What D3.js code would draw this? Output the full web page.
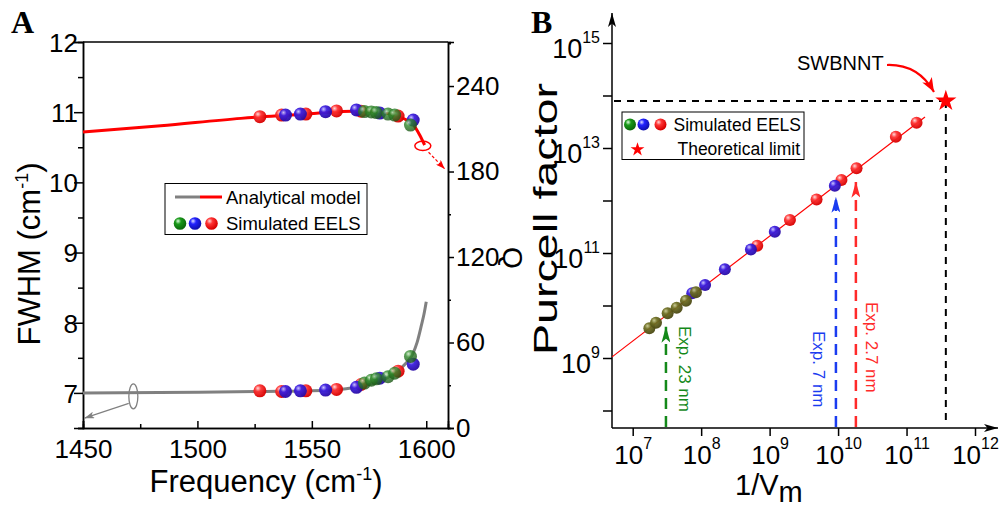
<!DOCTYPE html>
<html>
<head>
<meta charset="utf-8">
<script src="https://cdn.jsdelivr.net/npm/d3@7/dist/d3.min.js"></script>
<style>
body { margin: 0; background: #fff; }
text { font-family: "Liberation Sans", Arial, sans-serif; fill: #000; }
</style>
</head>
<body>
<svg width="1003" height="509"></svg>
<script>
// ---- panel A : analytical model ----
let modelFreq = [1450, 1500, 1530, 1550, 1565, 1575, 1582, 1587, 1591, 1594, 1596, 1598, 1599, 1600]
let modelFwhm = [7.0, 7.01, 7.02, 7.03, 7.06, 7.12, 7.2, 7.3, 7.42, 7.55, 7.72, 7.98, 8.12, 8.3]
let modelQFreq = [1450, 1484, 1519, 1545, 1562, 1571, 1580, 1586, 1591, 1594, 1597, 1599.3]
let modelQ = [207.7, 212.1, 217.3, 220.1, 222, 222.5, 221.5, 219.6, 216.5, 213.5, 206, 198.6]

// ---- panel A : simulated EELS ----
let simFreq = [1527.3, 1536.8, 1547.4, 1560.8, 1571.5, 1587.7, 1538.5, 1545, 1556, 1569.5, 1579.7, 1594.3, 1573, 1576, 1578.2, 1583.3, 1586.2, 1593.1]
let simFwhm = [7.03, 7.02, 7.03, 7.05, 7.12, 7.31, 7.02, 7.03, 7.04, 7.08, 7.21, 7.41, 7.14, 7.18, 7.2, 7.23, 7.28, 7.52]
let simQ = [218.5, 219.6, 220.3, 222.5, 222.3, 218.9, 219.6, 220.3, 222, 223.2, 221, 216.1, 222.1, 221.8, 221.4, 220.3, 219.6, 212.6]
let simColor = ['r', 'r', 'r', 'r', 'r', 'r', 'b', 'b', 'b', 'b', 'b', 'b', 'g', 'g', 'g', 'g', 'g', 'g']

let freqTicks = [1450, 1500, 1550, 1600]
let fwhmTicks = [7, 8, 9, 10, 11, 12]
let qTicks = [0, 60, 120, 180, 240]

// ---- panel B : Purcell factor ----
let invV = [6.59e8, 1.98e9, 4.85e9, 1.12e10, 1.86e10, 6.98e10, 1.40e11,
            7.41e7, 1.14e8, 2.22e8, 5.33e8, 1.19e9, 8.97e9,
            1.75e7, 2.19e7, 3.24e7, 4.39e7, 6.00e7, 8.39e7]
let purcell = [1.38e11, 4.26e11, 1.05e12, 2.45e12, 4.10e12, 1.64e13, 3.03e13,
               1.71e10, 2.45e10, 4.90e10, 1.17e11, 2.55e11, 1.91e12,
               3.68e9, 4.70e9, 7.10e9, 9.08e9, 1.23e10, 1.78e10]
let pColor = ['r', 'r', 'r', 'r', 'r', 'r', 'r',
              'b', 'b', 'b', 'b', 'b', 'b',
              'g', 'g', 'g', 'g', 'g', 'g']
let fitInvV = [5.0e6, 1.86e11]
let fitPurcell = [1.05e9, 3.9e13]
let limitInvV = 3.75e11
let limitPurcell = 7.85e13
let expLabels = ['Exp. 23 nm', 'Exp. 7 nm', 'Exp. 2.7 nm']
let expInvV = [3.06e7, 9.3e9, 1.82e10]
let expTip = [3.95e9, 1.18e12, 2.28e12]
let expColors = ['#14891a', '#1a3cf0', '#ff2a2a']
let invVTicks = [1e7, 1e8, 1e9, 1e10, 1e11, 1e12]
let purcellTicks = [1e8, 1e9, 1e10, 1e11, 1e12, 1e13, 1e14, 1e15]

let svg = d3.select('svg')
let defs = svg.append('defs')

let ball = (id, hi, mid, lo) => {
    let g = defs.append('radialGradient').attr('id', id)
        .attr('cx', '38%').attr('cy', '35%').attr('r', '62%')
        .attr('fx', '34%').attr('fy', '30%')
    g.append('stop').attr('offset', '0%').attr('stop-color', hi)
    g.append('stop').attr('offset', '38%').attr('stop-color', mid)
    g.append('stop').attr('offset', '100%').attr('stop-color', lo)
}
ball('ball-r', '#ffd8d8', '#ff3434', '#d80000')
ball('ball-b', '#c8c0ff', '#3c1fe0', '#2a0ca8')
ball('ball-g', '#c8e8c0', '#2f8a2a', '#1e5a18')
ball('ball-o', '#c8c890', '#6f7024', '#4c4a14')
ball('ball-lg', '#e0ffe0', '#1a9a1a', '#0c6a0c')
ball('ball-lb', '#e0e0ff', '#2222ff', '#1010b0')

let marker = (id, color, w, h) => {
    defs.append('marker').attr('id', id)
        .attr('viewBox', `0 0 ${w} ${h}`).attr('refX', w).attr('refY', h / 2)
        .attr('markerWidth', w).attr('markerHeight', h)
        .attr('markerUnits', 'userSpaceOnUse').attr('orient', 'auto')
        .append('path').attr('d', `M0,0 L${w},${h / 2} L0,${h} L${w * 0.25},${h / 2} Z`)
        .attr('fill', color)
}
marker('arr-gray', '#808080', 10, 7)
marker('arr-red', '#ff0000', 9, 7)
marker('arr-black', '#000', 14, 8)
marker('arr-swb', '#ff0000', 14, 11)
expColors.forEach((c, i) => marker('arr-exp' + i, c, 16, 9))

let fillOf = { r: 'url(#ball-r)', b: 'url(#ball-b)', g: 'url(#ball-g)' }

// ================= panel A =================
let xA = d3.scaleLinear().domain([1450, 1609.5]).range([83, 448])
let yA = d3.scaleLinear().domain([6.5, 12]).range([428, 42])
let qA = d3.scaleLinear().domain([0, 270.9]).range([428, 42])

let gA = svg.append('g')

// frame
gA.append('line').attr('x1', 83).attr('x2', 448).attr('y1', 42).attr('y2', 42)
    .attr('stroke', '#000').attr('stroke-width', 1.5)

let leftA = gA.append('g').attr('transform', 'translate(83,0)')
    .call(d3.axisLeft(yA).tickValues(fwhmTicks).tickSize(9).tickPadding(-4).tickFormat(d3.format('d')))
leftA.append('g').call(d3.axisLeft(yA).tickValues([6.5, 7.5, 8.5, 9.5, 10.5, 11.5]).tickSize(5).tickFormat(''))

let bottomA = gA.append('g').attr('transform', 'translate(0,428)')
    .call(d3.axisBottom(xA).tickValues(freqTicks).tickSize(-7).tickPadding(12).tickFormat(d3.format('d')))
bottomA.append('g').call(d3.axisBottom(xA).tickValues([1475, 1525, 1575]).tickSize(-4).tickFormat(''))

let rightA = gA.append('g').attr('transform', 'translate(448,0)')
    .call(d3.axisRight(qA).tickValues(qTicks).tickSize(6).tickPadding(2).tickFormat(d3.format('d')))
rightA.append('g').call(d3.axisRight(qA).tickValues([30, 90, 150, 210, 270]).tickSize(3).tickFormat(''))

gA.selectAll('.domain').attr('stroke-width', 1.5)
gA.selectAll('.tick line').attr('stroke-width', 1.5)
gA.selectAll('.tick text').attr('font-size', 26).attr('font-family', '"Liberation Sans", Arial, sans-serif')
leftA.selectAll('.tick text').attr('dy', '0.36em')

// model curves
gA.append('path').datum(modelFreq.map((f, i) => [f, modelFwhm[i]]))
    .attr('fill', 'none').attr('stroke', '#808080').attr('stroke-width', 3)
    .attr('d', d3.line().curve(d3.curveMonotoneX).x(d => xA(d[0])).y(d => yA(d[1])))
gA.append('path').datum(modelQFreq.map((f, i) => [f, modelQ[i]]))
    .attr('fill', 'none').attr('stroke', '#ff0000').attr('stroke-width', 3)
    .attr('d', d3.line().curve(d3.curveMonotoneX).x(d => xA(d[0])).y(d => qA(d[1])))

// axis indicators
gA.append('ellipse').attr('cx', xA(1472)).attr('cy', yA(6.95)).attr('rx', 4.5).attr('ry', 12.5)
    .attr('fill', 'none').attr('stroke', '#808080').attr('stroke-width', 1.3)
gA.append('line').attr('x1', xA(1470)).attr('y1', yA(6.85)).attr('x2', xA(1450.6)).attr('y2', yA(6.64))
    .attr('stroke', '#808080').attr('stroke-width', 1.2).attr('marker-end', 'url(#arr-gray)')
gA.append('ellipse').attr('cx', xA(1598.5)).attr('cy', qA(198)).attr('rx', 8).attr('ry', 4.7)
    .attr('fill', 'none').attr('stroke', '#ff0000').attr('stroke-width', 1.5)
gA.append('line').attr('x1', xA(1601)).attr('y1', qA(193.5)).attr('x2', xA(1608)).attr('y2', qA(182))
    .attr('stroke', '#ff0000').attr('stroke-width', 1.2).attr('stroke-dasharray', '3,2')
    .attr('marker-end', 'url(#arr-red)')

// simulated points (both FWHM and Q)
let simIdx = d3.range(simFreq.length)
gA.selectAll('circle.fw').data(simIdx).enter().append('circle').attr('class', 'fw')
    .attr('cx', i => xA(simFreq[i])).attr('cy', i => yA(simFwhm[i])).attr('r', 6.5)
    .attr('fill', i => fillOf[simColor[i]]).attr('opacity', i => simColor[i] == 'g' ? 0.8 : 0.95)
gA.selectAll('circle.q').data(simIdx).enter().append('circle').attr('class', 'q')
    .attr('cx', i => xA(simFreq[i])).attr('cy', i => qA(simQ[i])).attr('r', 6.5)
    .attr('fill', i => fillOf[simColor[i]]).attr('opacity', i => simColor[i] == 'g' ? 0.8 : 0.95)

// legend A
gA.append('rect').attr('x', 165).attr('y', 183.5).attr('width', 202).attr('height', 51)
    .attr('fill', '#fff').attr('stroke', '#000').attr('stroke-width', 1)
gA.append('line').attr('x1', 175).attr('x2', 200).attr('y1', 197).attr('y2', 197).attr('stroke', '#808080').attr('stroke-width', 3)
gA.append('line').attr('x1', 200).attr('x2', 222).attr('y1', 197).attr('y2', 197).attr('stroke', '#ff0000').attr('stroke-width', 3)
gA.append('text').attr('x', 226).attr('y', 203.5).attr('font-size', 18.5).text('Analytical model')
;[['ball-lg', 180], ['ball-lb', 195], ['ball-r', 211.5]].forEach(d => {
    gA.append('circle').attr('cx', d[1]).attr('cy', 223.5).attr('r', 6.3).attr('fill', `url(#${d[0]})`)
})
gA.append('text').attr('x', 226).attr('y', 230).attr('font-size', 18.5).text('Simulated EELS')

// titles A
let tFw = gA.append('text').attr('transform', 'translate(40,254) rotate(-90)').attr('text-anchor', 'middle').attr('font-size', 31)
tFw.append('tspan').text('FWHM (cm')
tFw.append('tspan').attr('font-size', 18).attr('dy', -12).text('-1')
tFw.append('tspan').attr('dy', 12).text(')')
let tFr = gA.append('text').attr('x', 266).attr('y', 492).attr('text-anchor', 'middle').attr('font-size', 31)
tFr.append('tspan').text('Frequency (cm')
tFr.append('tspan').attr('font-size', 18).attr('dy', -12).text('-1')
tFr.append('tspan').attr('dy', 12).text(')')
gA.append('text').attr('transform', 'translate(503,258) rotate(90)').attr('text-anchor', 'middle').attr('font-size', 28).text('Q')
gA.append('text').attr('x', 11).attr('y', 33).attr('font-size', 32).attr('font-weight', 'bold')
    .style('font-family', '"Liberation Serif", "Times New Roman", serif').text('A')

// ================= panel B =================
let xB = d3.scaleLog().domain([1e7, 1e12]).range([632.7, 975])
let yB = d3.scaleLog().domain([1e9, 1e15]).range([358, 43])

let gB = svg.append('g')

let supLabel = (sel) => {
    sel.selectAll('.tick text').each(function (d) {
        let e = Math.round(Math.log10(d))
        let t = d3.select(this).text(null)
        t.append('tspan').text('10')
        t.append('tspan').attr('font-size', 16).attr('dy', '-0.95em').text(e)
    })
}

let bottomB = gB.append('g').attr('transform', 'translate(0,428)')
    .call(d3.axisBottom(xB).tickValues(invVTicks).tickSize(8).tickPadding(6))
bottomB.selectAll('.tick text').attr('font-size', 26).attr('dy', '0.85em')
supLabel(bottomB)

let leftB = gB.append('g').attr('transform', 'translate(612,0)')
    .call(d3.axisLeft(yB).tickValues(purcellTicks).tickSize(9).tickPadding(3))
leftB.selectAll('.tick text').attr('font-size', 27).attr('dy', '0.55em')
leftB.selectAll('.tick text').filter(d => Math.round(Math.log10(d)) % 2 == 0).remove()
supLabel(leftB)

gB.selectAll('.domain').remove()
gB.selectAll('.tick line').attr('stroke-width', 1.5)
gB.selectAll('.tick text').attr('font-family', '"Liberation Sans", Arial, sans-serif')

// axes with arrows
gB.append('line').attr('x1', 612).attr('y1', 428).attr('x2', 998).attr('y2', 428)
    .attr('stroke', '#000').attr('stroke-width', 1.5).attr('marker-end', 'url(#arr-black)')
gB.append('line').attr('x1', 612).attr('y1', 428).attr('x2', 612).attr('y2', 13)
    .attr('stroke', '#000').attr('stroke-width', 1.5).attr('marker-end', 'url(#arr-black)')

// fit line
gB.append('line').attr('x1', xB(fitInvV[0])).attr('y1', yB(fitPurcell[0]))
    .attr('x2', xB(fitInvV[1])).attr('y2', yB(fitPurcell[1]))
    .attr('stroke', '#ff0000').attr('stroke-width', 1.2)

// limit dashed lines
gB.append('line').attr('x1', 614).attr('y1', yB(limitPurcell)).attr('x2', xB(limitInvV)).attr('y2', yB(limitPurcell))
    .attr('stroke', '#000').attr('stroke-width', 2).attr('stroke-dasharray', '7,6')
gB.append('line').attr('x1', xB(limitInvV)).attr('y1', yB(limitPurcell)).attr('x2', xB(limitInvV)).attr('y2', 426)
    .attr('stroke', '#000').attr('stroke-width', 2).attr('stroke-dasharray', '7,6')

// experiment arrows
expInvV.forEach((v, i) => {
    gB.append('line').attr('x1', xB(v)).attr('y1', 427).attr('x2', xB(v)).attr('y2', yB(expTip[i]))
        .attr('stroke', expColors[i]).attr('stroke-width', 2.5).attr('stroke-dasharray', '11,7')
        .attr('marker-end', `url(#arr-exp${i})`)
})
let expTextX = [679, 813, 866]
let expTextY = [326, 331, 302]
expLabels.forEach((s, i) => {
    gB.append('text').attr('transform', `translate(${expTextX[i]},${expTextY[i]}) rotate(90)`)
        .attr('font-size', 17).style('fill', expColors[i]).text(s)
})

// simulated points
let pIdx = d3.range(invV.length)
let fillB = { r: 'url(#ball-r)', b: 'url(#ball-b)', g: 'url(#ball-o)' }
gB.selectAll('circle.p').data(pIdx).enter().append('circle').attr('class', 'p')
    .attr('cx', i => xB(invV[i])).attr('cy', i => yB(purcell[i])).attr('r', 6)
    .attr('fill', i => fillB[pColor[i]]).attr('opacity', 0.95)

// theoretical limit star
gB.append('path').attr('transform', `translate(${xB(limitInvV)},${yB(limitPurcell)})`)
    .attr('d', d3.symbol(d3.symbolStar, 140)()).attr('fill', '#ff0000')

// SWBNNT label
gB.append('text').attr('x', 797).attr('y', 70).attr('font-size', 20).text('SWBNNT')
gB.append('path').attr('d', 'M887,65 Q918,64 934,92')
    .attr('fill', 'none').attr('stroke', '#ff0000').attr('stroke-width', 2.2).attr('marker-end', 'url(#arr-swb)')

// legend B
gB.append('rect').attr('x', 622).attr('y', 112).attr('width', 182).attr('height', 47.5)
    .attr('fill', '#fff').attr('stroke', '#000').attr('stroke-width', 1)
;[['ball-lg', 630], ['ball-lb', 643.5], ['ball-r', 660.5]].forEach(d => {
    gB.append('circle').attr('cx', d[1]).attr('cy', 124.5).attr('r', 6).attr('fill', `url(#${d[0]})`)
})
gB.append('text').attr('x', 801).attr('y', 130.5).attr('text-anchor', 'end').attr('font-size', 17.5).text('Simulated EELS')
gB.append('path').attr('transform', 'translate(637.5,149.5)').attr('d', d3.symbol(d3.symbolStar, 60)()).attr('fill', '#ff0000')
gB.append('text').attr('x', 800).attr('y', 154.5).attr('text-anchor', 'end').attr('font-size', 17.5).text('Theoretical limit')

// titles B
gB.append('text').attr('transform', 'translate(557,219) rotate(-90)').attr('text-anchor', 'middle')
    .attr('font-size', 34).attr('textLength', 272).attr('lengthAdjust', 'spacingAndGlyphs').text('Purcell factor')
let tV = gB.append('text').attr('x', 735).attr('y', 495).attr('font-size', 29)
tV.append('tspan').text('1/V')
tV.append('tspan').attr('dy', 7).text('m')
gB.append('text').attr('x', 531).attr('y', 33).attr('font-size', 32).attr('font-weight', 'bold')
    .style('font-family', '"Liberation Serif", "Times New Roman", serif').text('B')
</script>
</body>
</html>
